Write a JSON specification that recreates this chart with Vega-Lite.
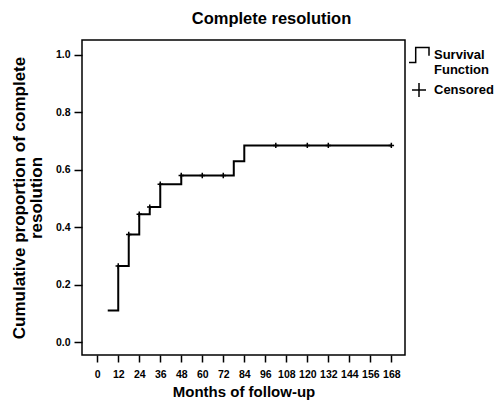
{
  "$schema": "https://vega.github.io/schema/vega-lite/v6.json",
  "width": 323,
  "height": 315,
  "autosize": "none",
  "padding": {"left": 82, "top": 40, "right": 91, "bottom": 50},
  "background": "white",
  "title": {"text": "Complete resolution", "fontSize": 16.5, "font": "Liberation Sans", "fontWeight": "bold", "color": "black", "dx": 28, "offset": 13},
  "config": {
    "view": {"stroke": "black", "strokeWidth": 1.5},
    "axis": {"labelFont": "Liberation Sans", "labelFontWeight": "bold", "titleFont": "Liberation Sans", "titleFontWeight": "bold", "domain": false, "grid": false, "tickColor": "black", "labelColor": "black", "titleColor": "black", "tickWidth": 1.5, "labelOverlap": false},
    "legend": {"labelFont": "Liberation Sans", "labelFontWeight": "bold", "labelColor": "black"}
  },
  "datasets": {
    "steps": [
      {"month": 6, "proportion": 0.11},
      {"month": 12, "proportion": 0.265},
      {"month": 18, "proportion": 0.375},
      {"month": 24, "proportion": 0.445},
      {"month": 30, "proportion": 0.47},
      {"month": 36, "proportion": 0.55},
      {"month": 48, "proportion": 0.58},
      {"month": 78, "proportion": 0.63},
      {"month": 84, "proportion": 0.685},
      {"month": 168, "proportion": 0.685}
    ],
    "censored": [
      {"month": 12, "proportion": 0.265, "kind": "Censored"},
      {"month": 18, "proportion": 0.375, "kind": "Censored"},
      {"month": 24, "proportion": 0.445, "kind": "Censored"},
      {"month": 30, "proportion": 0.47, "kind": "Censored"},
      {"month": 36, "proportion": 0.55, "kind": "Censored"},
      {"month": 48, "proportion": 0.58, "kind": "Censored"},
      {"month": 60, "proportion": 0.58, "kind": "Censored"},
      {"month": 72, "proportion": 0.58, "kind": "Censored"},
      {"month": 102, "proportion": 0.685, "kind": "Censored"},
      {"month": 120, "proportion": 0.685, "kind": "Censored"},
      {"month": 132, "proportion": 0.685, "kind": "Censored"},
      {"month": 168, "proportion": 0.685, "kind": "Censored"}
    ]
  },
  "encoding": {
    "x": {"field": "month", "type": "quantitative", "scale": {"domain": [-8.7, 175.8], "nice": false, "zero": false},
      "axis": {"values": [0, 12, 24, 36, 48, 60, 72, 84, 96, 108, 120, 132, 144, 156, 168], "tickSize": 7, "labelFontSize": 10.5, "labelPadding": 7, "labelOverlap": false, "labelFlush": false, "title": "Months of follow-up", "titleFontSize": 15, "titlePadding": 5}},
    "y": {"field": "proportion", "type": "quantitative", "scale": {"domain": [-0.045, 1.052], "nice": false, "zero": false},
      "axis": {"values": [0, 0.2, 0.4, 0.6, 0.8, 1.0], "format": ".1f", "tickSize": 8, "labelFontSize": 10.5, "labelPadding": 4, "title": ["Cumulative proportion of complete", "resolution"], "titleFontSize": 17, "titleLineHeight": 17, "titlePadding": 10}}
  },
  "layer": [
    {
      "data": {"name": "steps"},
      "mark": {"type": "line", "interpolate": "step-after", "color": "black", "strokeWidth": 2}
    },
    {
      "data": {"name": "censored"},
      "mark": {"type": "point", "filled": false, "color": "black", "strokeWidth": 1.5, "opacity": 1, "size": 60},
      "encoding": {
        "shape": {"field": "kind", "type": "nominal",
          "scale": {"domain": ["Survival Function", "Censored"], "range": ["M-1,0.75H-0.33V-0.75H1V0.08", "M0,-0.7V0.7M-0.7,0H0.7"]},
          "legend": {"orient": "none", "legendX": 326, "legendY": 4, "title": null, "labelFontSize": 13, "labelLimit": 300, "symbolSize": 400, "symbolStrokeWidth": 1.5, "symbolStrokeColor": "black", "symbolFillColor": "transparent", "rowPadding": 2, "labelOffset": 4,
            "labelExpr": "datum.label == 'Survival Function' ? ['Survival', 'Function'] : datum.label"}}
      }
    }
  ]
}
